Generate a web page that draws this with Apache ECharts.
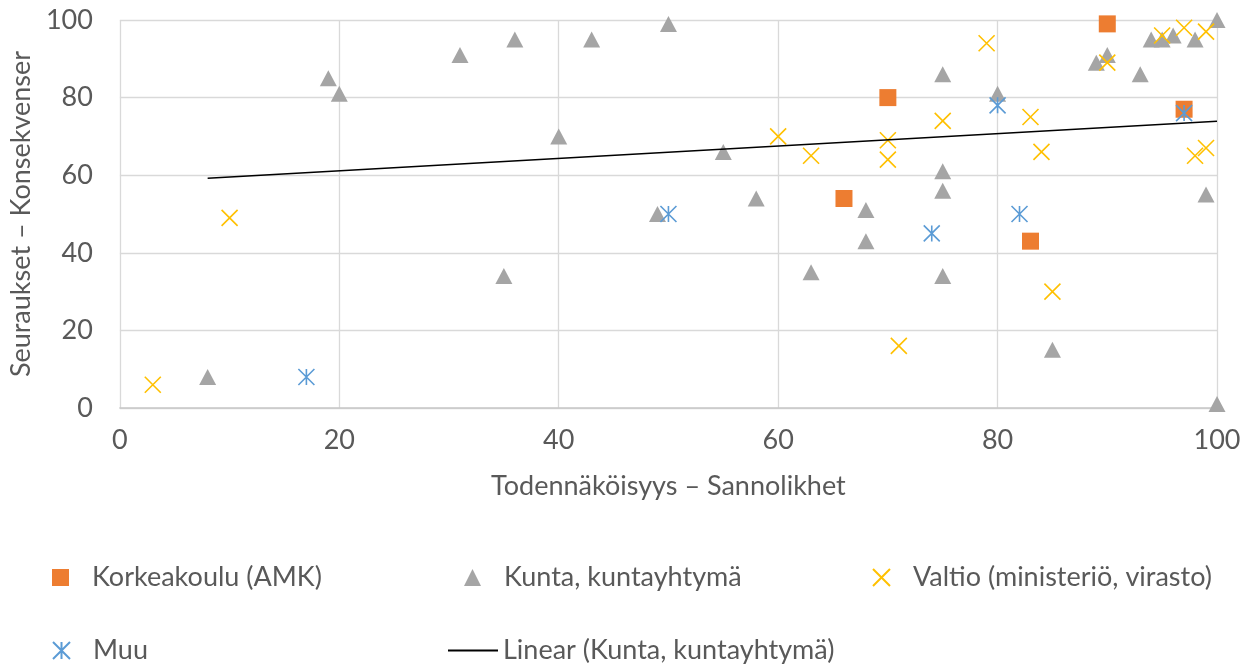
<!DOCTYPE html>
<html>
<head>
<meta charset="utf-8">
<script src="https://cdn.jsdelivr.net/npm/echarts@6/dist/echarts.min.js"></script>
<style>html,body{margin:0;padding:0;background:#fff}#c{width:1250px;height:665px}</style>
</head>
<body>
<div id="c"></div>
<script>
// Series names
const seriesNames = ['Korkeakoulu (AMK)', 'Kunta, kuntayhtymä', 'Valtio (ministeriö, virasto)', 'Muu', 'Linear (Kunta, kuntayhtymä)'];
const xAxisTitle = 'Todennäköisyys – Sannolikhet';
const yAxisTitle = 'Seuraukset – Konsekvenser';
const axisTicks = [0, 20, 40, 60, 80, 100];

// Korkeakoulu (AMK)
const korkeaX = [90, 70, 97, 66, 83];
const korkeaY = [99, 80, 77, 54, 43];

// Kunta, kuntayhtymä
const kuntaX = [8, 19, 20, 31, 35, 36, 40, 43, 49, 50, 55, 58, 63, 68, 68, 75, 75, 75, 75, 80, 85, 89, 90, 93, 94, 95, 96, 98, 99, 100, 100];
const kuntaY = [8, 85, 81, 91, 34, 95, 70, 95, 50, 99, 66, 54, 35, 51, 43, 86, 61, 56, 34, 81, 15, 89, 91, 86, 95, 95, 96, 95, 55, 100, 1];

// Valtio (ministeriö, virasto)
const valtioX = [3, 10, 60, 63, 70, 70, 71, 75, 79, 83, 84, 85, 90, 95, 97, 98, 99, 99];
const valtioY = [6, 49, 70, 65, 69, 64, 16, 74, 94, 75, 66, 30, 89, 96, 98, 65, 67, 97];

// Muu
const muuX = [17, 50, 74, 80, 82, 97];
const muuY = [8, 50, 45, 78, 50, 76];

// Linear trend of Kunta (endpoints)
const trendX = [8, 100];
const trendY = [59.2, 73.9];

const zip = (xs, ys) => xs.map((x, i) => [x, ys[i]]);

const FONT = 'Lato';
const TXT = '#595959';
const FS = 27;
const crossPath = 'path://M0,0L10,10M10,0L0,10';
const starPath = 'path://M0,0L10,10M10,0L0,10M5,0L5,10';

const chart = echarts.init(document.getElementById('c'), null, {renderer: 'canvas'});

const legendBase = {
  orient: 'horizontal', padding: 0, itemGap: 0,
  itemWidth: 17, itemHeight: 17,
  textStyle: {fontFamily: FONT, fontSize: FS, color: TXT, padding: [0, 0, 0, 18]}
};

chart.setOption({
  animation: false,
  backgroundColor: '#fff',
  grid: {left: 118, right: 33, top: 20, bottom: 257, containLabel: false},
  xAxis: {
    type: 'value', min: 0, max: 100, interval: 20,
    name: xAxisTitle, nameLocation: 'middle', nameGap: 65,
    nameTextStyle: {fontFamily: FONT, fontSize: FS, color: TXT},
    axisLine: {show: true, lineStyle: {color: '#C8C8C8', width: 1.5}},
    axisTick: {show: false},
    axisLabel: {fontFamily: FONT, fontSize: FS, color: TXT, margin: 19,
      formatter: v => axisTicks.includes(v) ? String(v) : ''},
    splitLine: {show: true, lineStyle: {color: '#D9D9D9', width: 1.3}}
  },
  yAxis: {
    type: 'value', min: 0, max: 100, interval: 20,
    name: yAxisTitle, nameLocation: 'middle', nameGap: 80,
    nameTextStyle: {fontFamily: FONT, fontSize: FS, color: TXT},
    axisLine: {show: false},
    axisTick: {show: false},
    axisLabel: {fontFamily: FONT, fontSize: FS, color: TXT, margin: 27,
      formatter: v => axisTicks.includes(v) ? String(v) : ''},
    splitLine: {show: true, lineStyle: {color: '#D9D9D9', width: 1.3}}
  },
  legend: [
    Object.assign({}, legendBase, {data: [seriesNames[0]], left: 52, top: 564}),
    Object.assign({}, legendBase, {data: [seriesNames[1]], left: 464, top: 564}),
    Object.assign({}, legendBase, {data: [seriesNames[2]], left: 872, top: 564}),
    Object.assign({}, legendBase, {data: [seriesNames[3]], left: 52, top: 637}),
    Object.assign({}, legendBase, {data: [{name: seriesNames[4], icon: 'rect'}], left: 448, top: 637,
      itemWidth: 50, itemHeight: 2, textStyle: {fontFamily: FONT, fontSize: FS, color: TXT, padding: [0, 0, 0, 0]}})
  ],
  series: [
    {name: seriesNames[0], type: 'scatter', symbol: 'rect', symbolSize: 17,
      itemStyle: {color: '#ED7D31', opacity: 1}, data: zip(korkeaX, korkeaY)},
    {name: seriesNames[1], type: 'scatter', symbol: 'triangle', symbolSize: [17, 16],
      itemStyle: {color: '#A5A5A5', opacity: 1}, data: zip(kuntaX, kuntaY)},
    {name: seriesNames[2], type: 'scatter', symbol: crossPath, symbolSize: 16,
      itemStyle: {color: 'rgba(255,192,0,0)', borderColor: '#FFC000', borderWidth: 1.6, opacity: 1}, data: zip(valtioX, valtioY)},
    {name: seriesNames[3], type: 'scatter', symbol: starPath, symbolSize: 16,
      itemStyle: {color: 'rgba(91,155,213,0)', borderColor: '#5B9BD5', borderWidth: 1.6, opacity: 1}, data: zip(muuX, muuY)},
    {name: seriesNames[4], type: 'line', showSymbol: false, symbol: 'none',
      lineStyle: {color: '#000', width: 1.6}, itemStyle: {color: '#000'},
      data: zip(trendX, trendY), z: 3}
  ]
});
</script>
</body>
</html>
